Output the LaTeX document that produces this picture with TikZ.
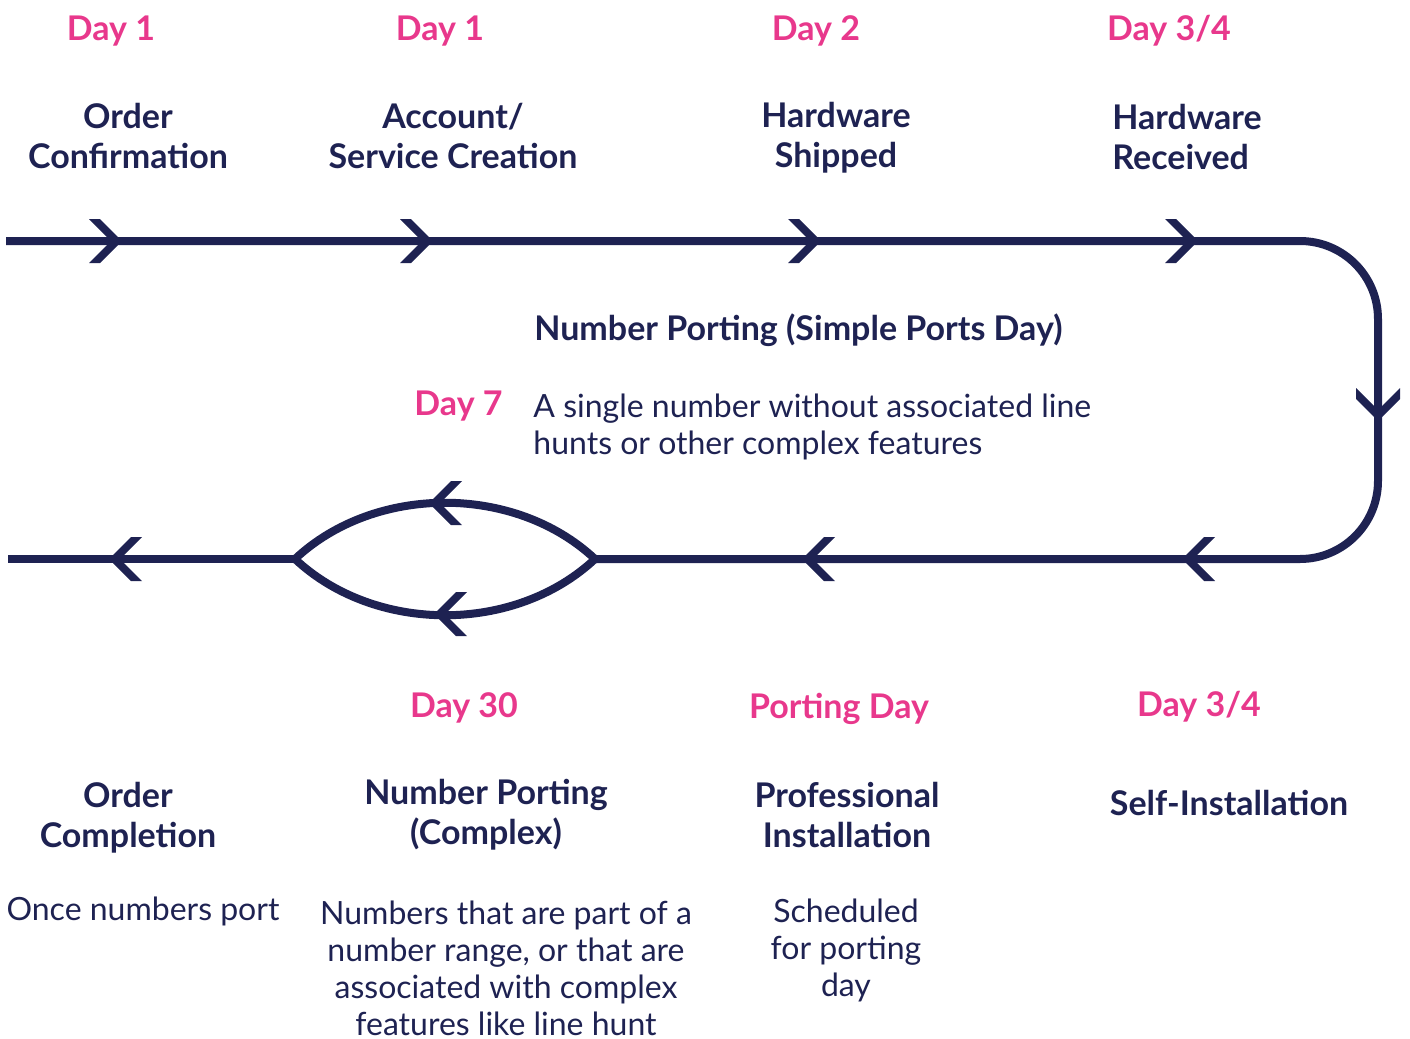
\documentclass[tikz,border=0pt]{standalone}
\usepackage{fontspec}
\setmainfont{Lato}
\usetikzlibrary{calc}
\definecolor{navy}{HTML}{1E2252}
\definecolor{hotpink}{HTML}{E8388C}

\begin{document}
\begin{tikzpicture}[x=0.5pt, y=-0.5pt,
	route/.style = {line width=4pt, draw=navy},
	day/.style = {inner sep=0pt, text=hotpink, font=\bfseries\fontsize{17}{20}\selectfont},
	head/.style = {inner sep=0pt, text=navy, align=center, font=\bfseries\fontsize{17}{20}\selectfont},
	body/.style = {inner sep=0pt, text=navy, align=center, font=\fontsize{16}{18.5}\selectfont},
	chevron/.pic = {\fill[navy] (-32,-22) -- (-21,-22) -- (1,0) -- (-21,22) -- (-32,22) -- (-10,0) -- cycle;}]
	\useasboundingbox (0,0) rectangle (1410,1039);
	% the route
	\coordinate (in) at (6,241);
	\coordinate (corner1) at (1378,241);
	\coordinate (corner2) at (1378,559);
	\coordinate (split) at (595,559);
	\coordinate (join) at (295,559);
	\coordinate (out) at (8,559);
	\draw[route, rounded corners=39pt] (in) -- (corner1) -- (corner2) -- (split);
	\draw[route] (split) .. controls (515,484) and (375,484) .. (join);
	\draw[route] (split) .. controls (515,634) and (375,634) .. (join);
	\draw[route] (join) -- (out);
	% arrow heads
	\pic at (121,241) {chevron};
	\pic at (432,241) {chevron};
	\pic at (820,241) {chevron};
	\pic at (1197,241) {chevron};
	\pic[rotate=-90] at (1378,420) {chevron};
	\pic[rotate=180] at (1183,559) {chevron};
	\pic[rotate=180] at (803,559) {chevron};
	\pic[rotate=180] at (430,503) {chevron};
	\pic[rotate=180] at (435,614) {chevron};
	\pic[rotate=180] at (110,559) {chevron};
	% top row
	\node[day] (day1a) at (111,31) {Day 1};
	\node[day] (day1b) at (440,31) {Day 1};
	\node[day] (day2) at (816,31) {Day 2};
	\node[day] (day34a) at (1169,31) {Day 3/4};
	\node[head] (confirm) at (128,136) {Order\\Confirmation};
	\node[head] (account) at (453,136) {Account/\\Service Creation};
	\node[head] (shipped) at (836,138) {Hardware\\Shipped};
	\node[head, align=left, anchor=west] (received) at (1112,137) {Hardware\\Received};
	% simple ports
	\node[head, anchor=west] (simple) at (534,330) {Number Porting (Simple Ports Day)};
	\node[day, anchor=east] (day7) at (503,406) {Day 7};
	\node[body, align=left, anchor=west] (simpletxt) at (533,427) {A single number without associated line\\hunts or other complex features};
	% bottom row
	\node[day] (day30) at (464,708) {Day 30};
	\node[day] (portday) at (839,709) {Porting Day};
	\node[day] (day34b) at (1199,707) {Day 3/4};
	\node[head] (completion) at (128,818) {Order\\Completion};
	\node[head] (complex) at (486,815) {Number Porting\\(Complex)};
	\node[head] (pro) at (847,815) {Professional\\Installation};
	\node[head] (self) at (1229,803) {Self-Installation};
	\node[body] (oncetxt) at (143,911) {Once numbers port};
	\node[body] (complextxt) at (506,968) {Numbers that are part of a\\number range, or that are\\associated with complex\\features like line hunt};
	\node[body] (protxt) at (846,950) {Scheduled\\for porting\\day};
\end{tikzpicture}
\end{document}
